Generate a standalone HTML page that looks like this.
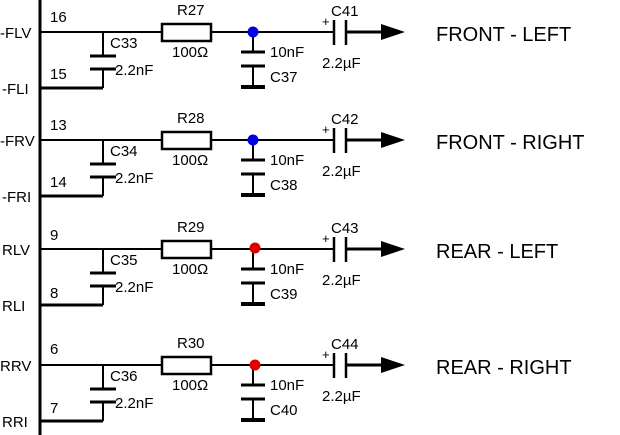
<!DOCTYPE html>
<html><head><style>body{margin:0;background:#fff}svg{display:block}</style></head><body>
<svg width="620" height="435" viewBox="0 0 620 435" xmlns="http://www.w3.org/2000/svg" font-family="Liberation Sans, sans-serif">
<defs>
<g id="row">
<line x1="40" y1="0" x2="162" y2="0" stroke="#000" stroke-width="2"/>
<line x1="40" y1="56" x2="103" y2="56" stroke="#000" stroke-width="3"/>
<line x1="103" y1="0" x2="103" y2="24" stroke="#000" stroke-width="2"/>
<line x1="90" y1="24" x2="116" y2="24" stroke="#000" stroke-width="3"/>
<line x1="90" y1="37" x2="116" y2="37" stroke="#000" stroke-width="3"/>
<line x1="103" y1="37" x2="103" y2="56" stroke="#000" stroke-width="2"/>
<rect x="162" y="-8" width="49" height="17" fill="#fff" stroke="#000" stroke-width="2.5"/>
<line x1="211" y1="0" x2="333" y2="0" stroke="#000" stroke-width="2"/>
<line x1="253" y1="0" x2="253" y2="20" stroke="#000" stroke-width="2"/>
<line x1="241" y1="20" x2="265" y2="20" stroke="#000" stroke-width="3"/>
<line x1="241" y1="34" x2="265" y2="34" stroke="#000" stroke-width="3"/>
<line x1="253" y1="34" x2="253" y2="55" stroke="#000" stroke-width="2"/>
<line x1="241" y1="55" x2="265" y2="55" stroke="#000" stroke-width="4"/>
<line x1="334" y1="-12" x2="334" y2="13" stroke="#000" stroke-width="2.5"/>
<line x1="346" y1="-12" x2="346" y2="13" stroke="#000" stroke-width="2.5"/>
<line x1="346" y1="0" x2="382" y2="0" stroke="#000" stroke-width="3"/>
<polygon points="381,-8 405,0 381,8" fill="#000"/>
<g font-size="15" fill="#000">
<text x="322" y="-6" font-size="13">+</text>
<text x="172" y="25">100Ω</text>
<text x="270" y="25">10nF</text>
<text x="322" y="36">2.2µF</text>
<text x="115" y="43">2.2nF</text>
</g>
</g>
</defs>
<line x1="40" y1="0" x2="40" y2="435" stroke="#000" stroke-width="3"/>
<g font-size="15" fill="#000">
<use href="#row" y="32"/>
<circle cx="253" cy="32" r="5.5" fill="#0000e0"/>
<text x="177" y="15">R27</text><text x="110" y="48">C33</text><text x="270" y="82">C37</text><text x="331" y="16">C41</text>
<text x="50" y="22">16</text><text x="50" y="79">15</text>
<text x="0" y="38">-FLV</text><text x="2" y="94">-FLI</text>
<text x="436" y="41" font-size="20">FRONT - LEFT</text>

<use href="#row" y="140"/>
<circle cx="253" cy="140" r="5.5" fill="#0000e0"/>
<text x="177" y="123">R28</text><text x="110" y="156">C34</text><text x="270" y="190">C38</text><text x="331" y="124">C42</text>
<text x="50" y="130">13</text><text x="50" y="187">14</text>
<text x="0" y="146">-FRV</text><text x="2" y="202">-FRI</text>
<text x="436" y="149" font-size="20">FRONT - RIGHT</text>

<use href="#row" y="249"/>
<circle cx="255" cy="248" r="5.5" fill="#e00000"/>
<text x="177" y="232">R29</text><text x="110" y="265">C35</text><text x="270" y="299">C39</text><text x="331" y="233">C43</text>
<text x="50" y="240">9</text><text x="50" y="298">8</text>
<text x="2" y="255">RLV</text><text x="2" y="311">RLI</text>
<text x="436" y="258" font-size="20">REAR - LEFT</text>

<use href="#row" y="365"/>
<circle cx="255" cy="365" r="5.5" fill="#e00000"/>
<text x="177" y="348">R30</text><text x="110" y="381">C36</text><text x="270" y="415">C40</text><text x="331" y="349">C44</text>
<text x="50" y="354">6</text><text x="50" y="413">7</text>
<text x="0" y="371">RRV</text><text x="2" y="427">RRI</text>
<text x="436" y="374" font-size="20">REAR - RIGHT</text>
</g>
</svg>
</body></html>
